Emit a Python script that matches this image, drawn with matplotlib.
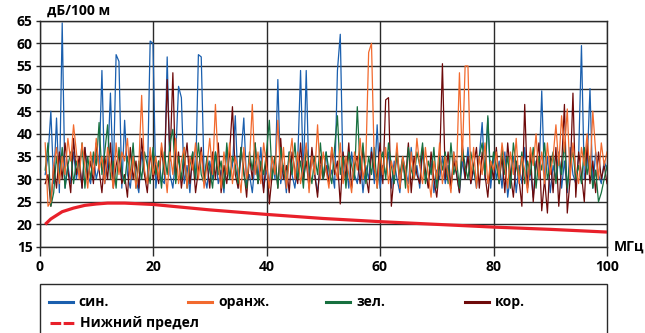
import matplotlib
matplotlib.use("Agg")
import matplotlib.pyplot as plt
from matplotlib.lines import Line2D
from matplotlib.patches import Rectangle
import numpy as np

plt.rcParams["font.family"] = ["Open Sans", "DejaVu Sans"]
plt.rcParams["font.weight"] = "bold"

# frequency grid, MHz (step 0.5)
freq = np.arange(1.0, 100.01, 0.5)

# attenuation, dB/100 m, read row by row (10 MHz per row)
sin = [
    31, 35, 45, 29, 43.5, 27, 64.5, 28, 33, 29, 36, 30, 34, 28, 37, 31, 29, 35, 30, 33,
    54, 29, 33, 49, 30, 57.5, 56, 28, 43, 31, 28, 35, 30, 27, 36, 31, 29, 60.5, 60, 28,
    34, 30, 29, 57, 31, 28, 35, 50.5, 48, 29, 33, 27, 36, 30, 57.5, 57, 31, 28, 34, 30,
    36, 29, 32, 27, 37, 30, 33, 44, 28, 35, 43.5, 29, 31, 27, 34, 30, 37, 28, 32, 29,
    35, 30, 52, 29, 33, 27, 36, 31, 28, 34, 54, 30, 54, 29, 35, 31, 27, 33, 30, 36,
    29, 32, 28, 54, 62, 30, 34, 28, 36, 31, 29, 35, 27, 33, 30, 37, 29, 42, 28, 33,
    31, 36, 28, 34, 30, 27, 35, 32, 29, 37, 30, 33, 28, 36, 31, 29, 34, 27, 32, 30,
    35, 29, 33, 28, 36, 31, 27, 34, 30, 37, 29, 32, 28, 35, 42.5, 30, 43.5, 28, 35, 30,
    34, 28, 36, 26, 31, 35, 27, 33, 29, 37, 28, 32, 26, 34, 30, 49.5, 29, 35, 27, 33,
    30, 36, 28, 34, 27, 37, 31, 29, 35, 59.5, 30, 33, 50, 28, 36, 31, 29, 34, 32,
]
oranzh = [
    38, 24, 25, 33, 37, 29, 35, 31, 39, 34, 42, 36, 30, 38, 33, 28, 36, 31, 39, 32,
    35, 29, 37, 33, 28, 38, 31, 36, 34, 39, 30, 35, 28, 33, 48.5, 32, 29, 37, 31, 35,
    30, 38, 33, 27, 36, 31, 39, 29, 34, 37, 28, 35, 32, 38, 30, 36, 28, 33, 39, 31,
    46.5, 33, 28, 36, 31, 38, 29, 35, 32, 27, 37, 30, 34, 46.5, 31, 36, 29, 38, 33, 28,
    35, 31, 43, 30, 37, 28, 34, 39, 30, 36, 29, 33, 38, 27, 35, 31, 42, 30, 36, 32,
    28, 37, 33, 30, 38, 29, 35, 31, 27, 36, 32, 39, 30, 34, 58, 60, 33, 28, 36, 31,
    37, 29, 34, 31, 38, 28, 35, 32, 27, 36, 30, 39, 33, 29, 37, 31, 26, 34, 30, 38,
    29, 35, 31, 27, 36, 32, 53.5, 34, 55, 55, 30, 37, 28, 35, 31, 38, 29, 34, 32, 36,
    30, 38, 33, 28, 36, 31, 39, 29, 35, 32, 27, 37, 33, 40, 30, 36, 29, 38, 31, 35,
    42, 33, 44, 36, 45.5, 30, 38, 32, 29, 37, 33, 40, 31, 45, 36, 30, 38, 33, 36,
]
zel = [
    32, 38, 24, 27, 35, 30, 37, 28, 33, 36, 29, 34, 31, 38, 28, 35, 30, 36, 33, 42.5,
    31, 36, 42, 30, 34, 28, 37, 32, 29, 35, 31, 38, 28, 34, 30, 36, 33, 29, 37, 31,
    34, 28, 36, 31, 38, 41, 29, 35, 30, 37, 28, 33, 36, 30, 38, 31, 29, 35, 32, 28,
    36, 31, 34, 28, 38, 30, 35, 33, 29, 37, 31, 28, 36, 32, 38, 29, 34, 31, 36, 43,
    30, 35, 28, 37, 32, 29, 36, 31, 38, 30, 34, 28, 37, 33, 29, 35, 31, 38, 30, 36,
    32, 29, 37, 44, 31, 35, 28, 36, 33, 30, 46, 32, 38, 29, 35, 31, 37, 28, 34, 36,
    30, 38, 33, 29, 36, 31, 35, 28, 37, 32, 30, 36, 33, 38, 29, 34, 31, 37, 28, 35,
    32, 36, 29, 38, 31, 34, 28, 37, 33, 30, 36, 32, 29, 35, 38, 31, 44, 30, 36, 33,
    29, 37, 31, 35, 28, 38, 33, 30, 36, 29, 34, 31, 37, 28, 35, 32, 38, 30, 33, 36,
    29, 35, 31, 38, 28, 34, 36, 30, 33, 29, 37, 31, 35, 28, 32, 25, 27, 30, 33,
]
kor = [
    29, 31, 24, 33, 28, 36, 30, 38, 32, 27, 39, 31, 35, 28, 37, 30, 34, 29, 38, 32,
    27, 35, 30, 38, 28, 33, 36, 29, 31, 26, 37, 30, 34, 28, 39, 31, 27, 36, 30, 33,
    29, 37, 31, 52, 34, 53.5, 30, 36, 28, 33, 38, 29, 35, 27, 32, 37, 30, 34, 28, 36,
    30, 38, 27, 33, 29, 36, 46, 31, 28, 37, 32, 26, 35, 30, 38, 29, 33, 27, 36, 24.5,
    31, 35, 28, 39, 30, 33, 27, 36, 32, 29, 38, 30, 34, 28, 37, 31, 26, 35, 30, 33,
    29, 37, 31, 34, 24.5, 36, 30, 38, 28, 33, 35, 29, 37, 31, 27, 36, 32, 30, 38, 29,
    47.5, 48, 24, 31, 36, 28, 34, 30, 38, 27, 35, 31, 29, 37, 32, 28, 36, 30, 26, 33,
    55.5, 30, 36, 28, 34, 31, 27, 38, 30, 35, 29, 33, 37, 28, 36, 31, 26, 34, 30, 37,
    29, 35, 27, 38, 31, 26, 34, 30, 24, 46.5, 28, 36, 25, 33, 38, 23, 30, 22.5, 35, 27,
    37, 24, 33, 46.5, 22.5, 30, 49, 26, 36, 31, 25, 38, 29, 34, 27, 36, 30, 33, 29,
]

# lower limit curve
freq_lim = [1, 2, 3, 4, 6, 8, 10, 12, 15, 20, 30, 40, 50, 60, 70, 80, 90, 100]
lim = [20.0, 21.2, 22.0, 22.8, 23.6, 24.2, 24.5, 24.7, 24.7, 24.4, 23.2, 22.2,
       21.3, 20.6, 20.0, 19.4, 18.9, 18.3]

c_sin = "#1a5fae"
c_or = "#f26a2e"
c_zel = "#17703f"
c_kor = "#6e0a0a"
c_lim = "#e8202a"

fig = plt.figure(figsize=(6.45, 3.33), dpi=100)
ax = fig.add_axes([39.5 / 645, (333 - 247) / 333, (607 - 39.5) / 645, (247 - 20.7) / 333])

ax.plot(freq, sin, color=c_sin, lw=0.9)
ax.plot(freq, kor, color=c_kor, lw=0.9)
ax.plot(freq, zel, color=c_zel, lw=0.9)
ax.plot(freq, oranzh, color=c_or, lw=0.9)
ax.plot(freq_lim, lim, color=c_lim, lw=2.3, solid_capstyle="butt")

ax.set_xlim(0, 100)
ax.set_ylim(15, 65)
ax.set_xticks([0, 20, 40, 60, 80, 100])
ax.set_yticks(range(15, 66, 5))
ax.grid(True, color="#2a2a2a", lw=1.0)
ax.set_axisbelow(True)
for s in ax.spines.values():
    s.set_color("#2a2a2a")
    s.set_linewidth(1.0)
ax.tick_params(axis="y", length=3, width=1.0, color="#2a2a2a", pad=2, labelsize=10)
ax.tick_params(axis="x", length=6.5, width=1.0, color="#2a2a2a", pad=3, labelsize=10)

fig.text(47 / 645, 1 - 11 / 333, "дБ/100 м", fontsize=10, va="center", ha="left")
fig.text(614 / 645, 1 - 247 / 333, "МГц", fontsize=10, va="center", ha="left")

# legend box (runs off the bottom edge), entries placed by hand
fig.patches.append(Rectangle((40 / 645, -0.1), 567 / 645, 0.1 + (333 - 283.5) / 333,
                             transform=fig.transFigure, fill=False,
                             ec="#2a2a2a", lw=1.0))
legend_items = [
    ("син.", c_sin, 48.5, 302, None),
    ("оранж.", c_or, 188, 302, None),
    ("зел.", c_zel, 326, 302, None),
    ("кор.", c_kor, 465, 302, None),
    ("Нижний предел", c_lim, 49.5, 323, (3.5, 0.8, 3.5, 0.8, 1, 0.8)),
]
for label, color, x0, y0, dash in legend_items:
    ln = Line2D([x0 / 645, (x0 + 24) / 645], [1 - y0 / 333] * 2,
                transform=fig.transFigure, color=color, lw=2.2)
    if dash:
        ln.set_dashes(dash)
    fig.lines.append(ln)
    fig.text((x0 + 30) / 645, 1 - y0 / 333, label, fontsize=10,
             va="center", ha="left")

fig.savefig("out.png", dpi=100)
